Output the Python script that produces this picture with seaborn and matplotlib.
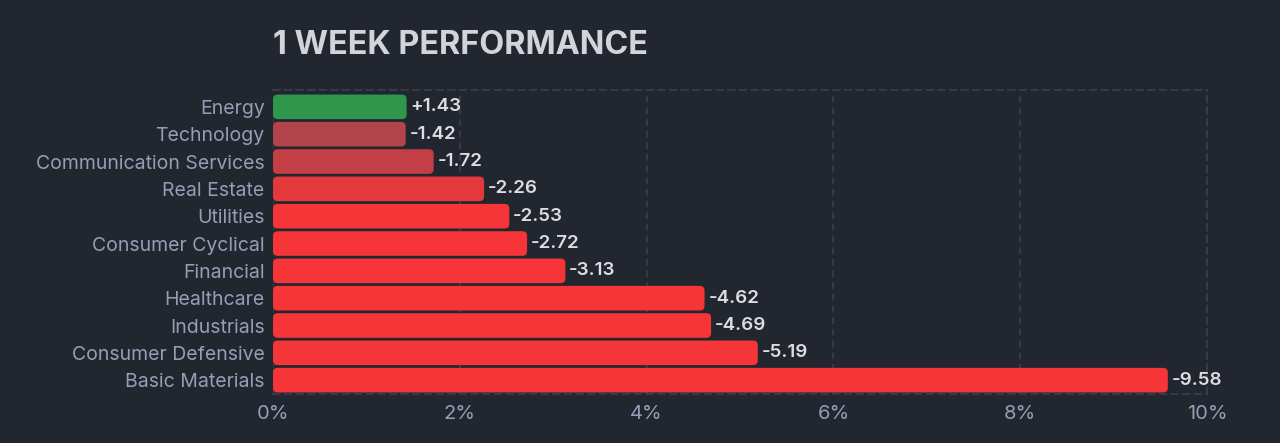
import matplotlib
matplotlib.use("Agg")
import matplotlib.pyplot as plt
from matplotlib.patches import FancyBboxPatch
from matplotlib.ticker import FuncFormatter
import seaborn as sns
import pandas as pd

sectors = ["Energy", "Technology", "Communication Services", "Real Estate",
           "Utilities", "Consumer Cyclical", "Financial", "Healthcare",
           "Industrials", "Consumer Defensive", "Basic Materials"]
change = [1.43, -1.42, -1.72, -2.26, -2.53, -2.72, -3.13, -4.62, -4.69, -5.19, -9.58]
bar_colors = ["#30964c", "#b3444b", "#c33f45", "#e4393c", "#f63538", "#f63538",
              "#f63538", "#f63538", "#f63538", "#f63538", "#f63538"]

BG = "#22262f"
GRID = "#3b3f4b"

df = pd.DataFrame({"sector": sectors, "change": change})
df["size"] = df["change"].abs()

sns.set_theme(style="dark")
plt.rcParams["font.family"] = ["Inter", "DejaVu Sans"]

fig = plt.figure(figsize=(12.8, 4.43), dpi=100, facecolor=BG)
ax = fig.add_axes([0.2133, 0.111, 0.7297, 0.686])
ax.set_facecolor(BG)

sns.barplot(data=df, x="size", y="sector", hue="sector",
            palette=dict(zip(sectors, bar_colors)), legend=False,
            width=0.9, saturation=1, ax=ax)

ax.set_xlim(0, 10)
ax.set_ylim(len(sectors) - 0.5, -0.62)

# swap square bars for rounded ones
for patch in list(ax.patches):
    x, y = patch.get_x(), patch.get_y()
    w, h = patch.get_width(), patch.get_height()
    fc = patch.get_facecolor()
    patch.remove()
    ax.add_patch(FancyBboxPatch((x, y), w, h,
                                boxstyle="round,pad=0,rounding_size=0.05",
                                mutation_aspect=3.4, facecolor=fc,
                                edgecolor="none", zorder=3))

for i, v in enumerate(change):
    ax.text(abs(v) + 0.04, i, f"{v:+.2f}", va="center", ha="left",
            color="#dcdde2", fontsize=13.5, fontweight="semibold", zorder=4)

ax.set_xticks([0, 2, 4, 6, 8, 10])
ax.xaxis.set_major_formatter(FuncFormatter(lambda v, p: f"{v:.0f}%"))
ax.tick_params(axis="x", labelsize=14.5, length=0, pad=8)
ax.tick_params(axis="y", labelsize=14, length=0, pad=6)
for lab in ax.get_yticklabels() + ax.get_xticklabels():
    lab.set_color("#9a9cb6")
ax.set_xlabel("")
ax.set_ylabel("")

ax.grid(axis="x", color=GRID, linestyle=(0, (4, 3)), linewidth=1.2, zorder=0)
ax.grid(axis="y", visible=False)
for side in ["top", "right", "bottom"]:
    ax.spines[side].set_visible(True)
    ax.spines[side].set_color(GRID)
    ax.spines[side].set_linestyle((0, (4, 3)))
    ax.spines[side].set_linewidth(1.2)
ax.spines["left"].set_visible(False)

fig.text(0.2133, 0.897, "1 WEEK PERFORMANCE", color="#d2d4da", fontsize=23.3,
         fontweight="bold", va="center", ha="left")

fig.savefig("out.png", dpi=100, facecolor=BG)
